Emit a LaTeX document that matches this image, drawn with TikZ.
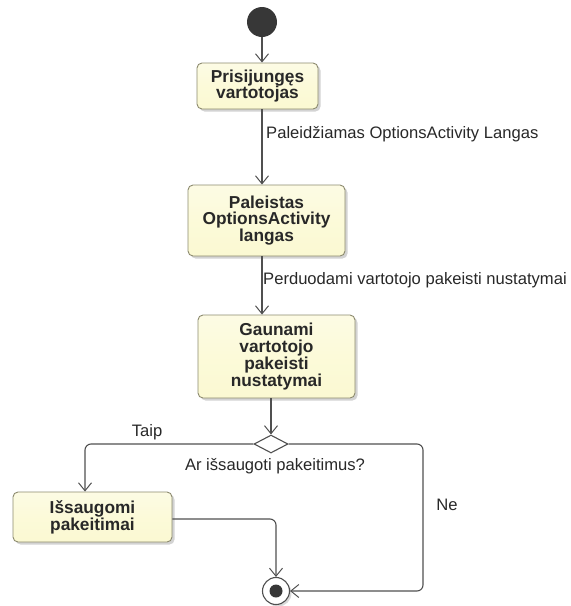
\documentclass[tikz,border=0pt]{standalone}
\usepackage{fontspec}
\setmainfont{Liberation Sans}
\usetikzlibrary{arrows.meta,shapes.geometric,shadows}
\definecolor{actfill}{RGB}{251,249,210}
\definecolor{actedge}{RGB}{140,138,110}
\definecolor{flow}{RGB}{80,80,80}
\definecolor{dot}{RGB}{55,55,55}
\definecolor{ink}{RGB}{40,40,40}
\tikzset{
  action/.style={draw=actedge, line width=0.9pt, rounded corners=5pt,
    top color=actfill!60!white, bottom color=actfill, middle color=actfill!85!white,
    align=center, font=\fontsize{17.3}{16.7}\selectfont\bfseries, text=ink,
    inner sep=0pt,
    drop shadow={shadow xshift=2.5pt, shadow yshift=-2.5pt, opacity=0.35}},
  flowline/.style={draw=flow, line width=1.1pt, rounded corners=6pt,
    -{Straight Barb[length=8pt,width=13pt,line width=1pt]}},
  guard/.style={font=\fontsize{16.6}{18}\selectfont, text=ink, inner sep=0pt},
  decision/.style={diamond, draw=flow, line width=1.1pt, fill=white,
    minimum width=34pt, minimum height=18pt, inner sep=0pt, aspect=1.9},
}
\begin{document}
\begin{tikzpicture}[x=1pt,y=-1pt]
  \useasboundingbox (0,0) rectangle (571,606);

  % initial and final nodes
  \node[circle, fill=dot, minimum size=30pt, inner sep=0pt] (start) at (262,22) {};
  \node[circle, draw=flow, line width=1.1pt, fill=white, minimum size=27pt, inner sep=0pt,
        drop shadow={shadow xshift=2pt, shadow yshift=-2pt, opacity=0.3}] (final) at (276,591) {};
  \node[circle, fill=dot, minimum size=13pt, inner sep=0pt] (finaldot) at (final) {};

  % actions
  \node[action, minimum width=121pt, minimum height=46pt] (b1) at (257.5,86) {Prisijungęs\\vartotojas};
  \node[action, minimum width=157pt, minimum height=71pt] (b2) at (266.5,220.5) {Paleistas\\OptionsActivity\\langas};
  \node[action, minimum width=157pt, minimum height=83pt] (b3) at (276.5,356.5) {Gaunami\\vartotojo\\pakeisti\\nustatymai};
  \node[action, minimum width=159pt, minimum height=50pt] (b4) at (92.5,517) {Išsaugomi\\pakeitimai};

  % decision
  \node[decision] (d) at (271,444) {};

  % bend points of the routed flows
  \coordinate (lx) at (85,0);
  \coordinate (rx) at (423,0);

  % control flows
  \draw[flowline] (start.south) -- (start |- b1.north);
  \draw[flowline] (b1.south -| start) -- (b2.north -| start);
  \draw[flowline] (b2.south -| start) -- (b3.north -| start);
  \draw[flowline] (b3.south -| d) -- (d.north);
  \draw[flowline] (d.west) -- (lx |- d) -- (lx |- b4.north);
  \draw[flowline] (b4.east |- 0,519) -- (final |- 0,519) -- (final.north);
  \draw[flowline] (d.east) -- (rx |- d) -- (rx |- final) -- (final.east);

  % labels
  \node[guard, anchor=west] (l1) at (266,134) {Paleidžiamas OptionsActivity Langas};
  \node[guard, anchor=west] (l2) at (263,280) {Perduodami vartotojo pakeisti nustatymai};
  \node[guard] (taip) at (147,432) {Taip};
  \node[guard] (q) at (275,466) {Ar išsaugoti pakeitimus?};
  \node[guard] (ne) at (447,505) {Ne};
\end{tikzpicture}
\end{document}
